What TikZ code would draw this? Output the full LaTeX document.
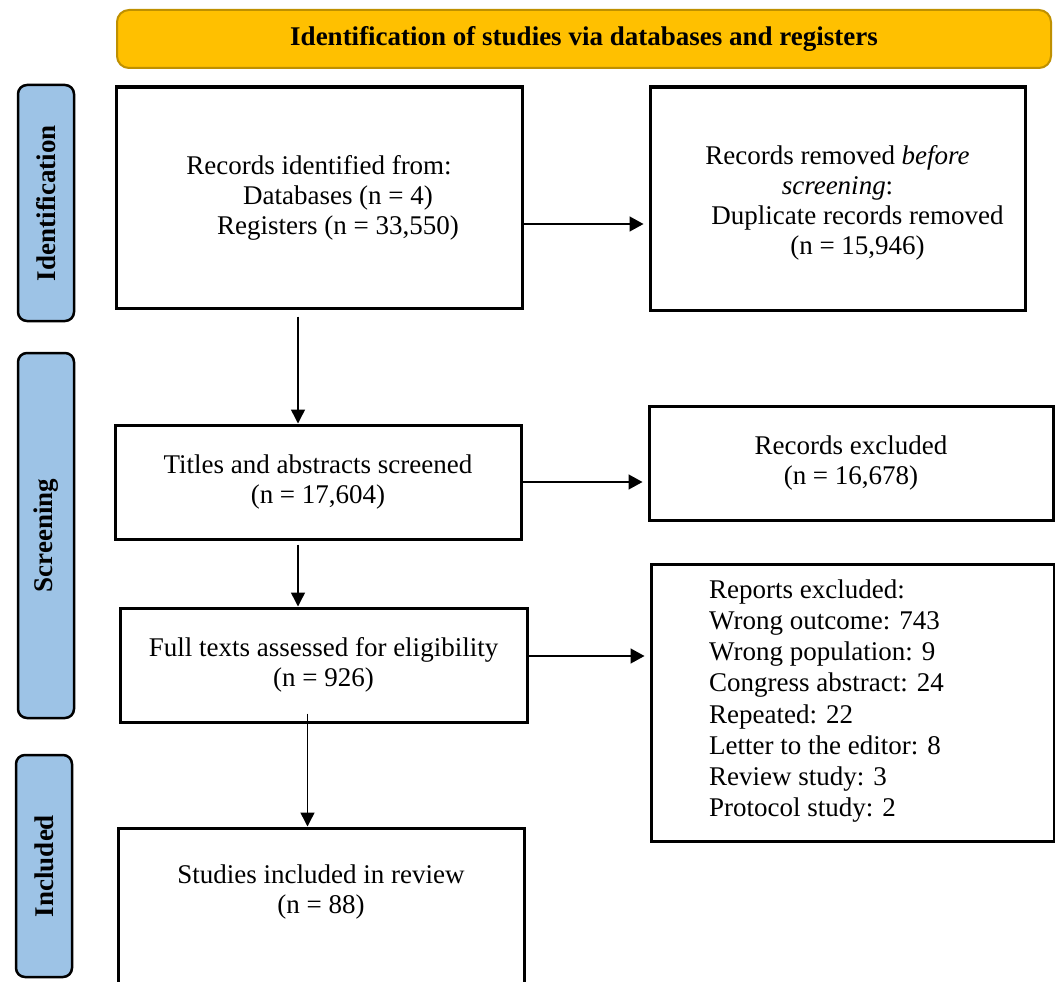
\documentclass[tikz,border=0pt]{standalone}
\usepackage{fontspec}
\setmainfont{Liberation Serif}
\usepackage{graphicx}
\usetikzlibrary{arrows.meta}
\definecolor{sideblue}{HTML}{9DC3E6}
\definecolor{goldfill}{HTML}{FFC000}
\definecolor{goldline}{HTML}{BF9000}
\newcommand{\bigfs}{\fontsize{27}{30}\selectfont}
\begin{document}
\begin{tikzpicture}[x=1pt,y=-1pt,
  box/.style={draw, line width=3pt, rectangle, inner sep=0pt, font=\bigfs, align=center},
  txt/.style={inner sep=0pt, font=\bigfs, align=center},
  sidebar/.style={draw, line width=2.5pt, fill=sideblue, rounded corners=9pt, minimum width=56pt, inner sep=0pt, font=\bigfs\bfseries},
  titlebar/.style={draw=goldline, line width=2pt, fill=goldfill, rounded corners=12pt, inner sep=0pt, font=\bigfs\bfseries},
  arrv/.style={line width=1.5pt, -{Triangle[length=14pt,width=14pt]}},
  arrh/.style={line width=1.5pt, -{Triangle[length=14pt,width=15pt]}, shorten >=5pt}]
\useasboundingbox (0,0) rectangle (1055,982);
\clip (0,0) rectangle (1055,982);
\fill[white] (0,0) rectangle (1055,982);

% header and phase bars
\node[titlebar, minimum width=934pt, minimum height=58pt] (title) at (584,39) {Identification of studies via databases and registers};
\node[sidebar, minimum height=236pt] (sid) at (46,203) {\rotatebox{90}{Identification}};
\node[sidebar, minimum height=365pt] (sscr) at (46,535.5) {\rotatebox{90}{Screening}};
\node[sidebar, minimum height=222pt] (sinc) at (44,866) {\rotatebox{90}{Included}};

% boxes
\node[box, minimum width=406pt, minimum height=221pt] (rec) at (319,197.5)
  {Records identified from:\\\hspace*{38pt}Databases (n = 4)\\\hspace*{38pt}Registers (n = 33,550)};
\node[box, minimum width=375pt, minimum height=223pt] (rem) at (837.5,198.5) {};
\node[txt] (remtext) at (837.5,202.5)
  {Records removed \textit{before}\\\textit{screening}:\\\hspace*{40pt}Duplicate records removed\\\hspace*{40pt}(n = 15,946)};
\node[box, minimum width=406pt, minimum height=114pt] (titles) at (318,482)
  {Titles and abstracts screened\\(n = 17,604)};
\node[box, minimum width=404pt, minimum height=114pt] (excl) at (851,463)
  {Records excluded\\(n = 16,678)};
\node[box, minimum width=407pt, minimum height=114pt] (full) at (323.5,665)
  {Full texts assessed for eligibility\\(n = 926)};
\node[box, minimum width=403pt, minimum height=277pt] (reports) at (852.5,702.5) {};
\node[txt, anchor=west, align=left, font=\fontsize{27}{31.2}\selectfont] (reptext) at (709,701)
  {Reports excluded:\\Wrong outcome: 743\\Wrong population: 9\\Congress abstract: 24\\Repeated: 22\\Letter to the editor: 8\\Review study: 3\\Protocol study: 2};
\node[box, minimum width=406pt, minimum height=172pt] (studies) at (321,914) {};
\node[txt] (studtext) at (321,892) {Studies included in review\\(n = 88)};

% connectors
\draw[arrh] ([yshift=-26.5pt]rec.east) -- ([yshift=-26.5pt]rec.east -| rem.west);
\draw[arrv] ([xshift=-21pt,yshift=-7pt]rec.south) -- ([xshift=-21pt]rec.south |- titles.north);
\draw[arrh] (titles.east) -- (titles.east -| excl.west);
\draw[arrv] ([xshift=-20pt,yshift=-4pt]titles.south) -- ([xshift=-20pt]titles.south |- full.north);
\draw[arrh] ([yshift=9pt]full.east) -- ([yshift=9pt]full.east -| reports.west);
\draw[arrv] ([xshift=-16pt,yshift=10pt]full.south) -- ([xshift=-16pt]full.south |- studies.north);
\end{tikzpicture}
\end{document}
